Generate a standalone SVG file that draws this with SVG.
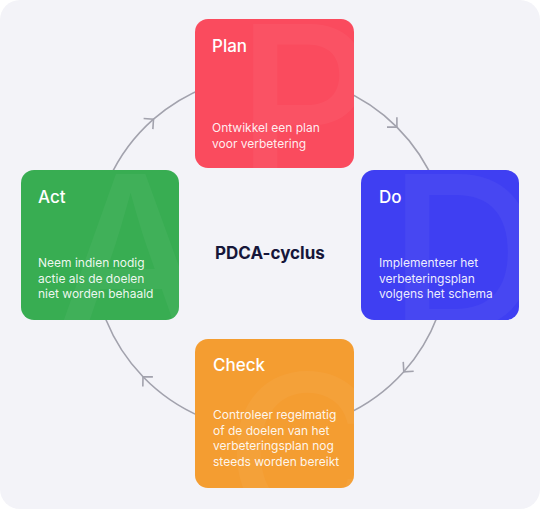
<svg xmlns="http://www.w3.org/2000/svg" width="540" height="509" viewBox="0 0 540 509">
<defs>
<style>
.title{font-family:Inter,"Noto Sans",sans-serif;font-size:17px;font-weight:500;fill:#ffffff}
.desc{font-family:Inter,"Noto Sans",sans-serif;font-size:12px;font-weight:400;fill:#ffffff;fill-opacity:0.92}
.wm{font-family:Inter,"Noto Sans",sans-serif;font-weight:500;fill:#ffffff;fill-opacity:0.045}
.center{font-family:Inter,"Noto Sans",sans-serif;font-size:17px;font-weight:700;fill:#16163a}
.arc{fill:none;stroke:#a2a2ad;stroke-width:1.6}
</style>
<marker id="chev" markerUnits="userSpaceOnUse" markerWidth="20" markerHeight="20" refX="0" refY="0" orient="auto" overflow="visible" viewBox="-10 -10 20 20">
<path d="M-7,-7 L0,0 L-7,7" fill="none" stroke="#a2a2ad" stroke-width="1.6"/>
</marker>
<clipPath id="cPlan"><rect x="195" y="19" width="159" height="149" rx="13"/></clipPath>
<clipPath id="cDo"><rect x="361" y="170" width="158" height="150" rx="13"/></clipPath>
<clipPath id="cAct"><rect x="21" y="170" width="158" height="150" rx="13"/></clipPath>
<clipPath id="cCheck"><rect x="195" y="339" width="159" height="149" rx="13"/></clipPath>
</defs>
<rect x="0" y="0" width="540" height="509" fill="#ffffff"/>
<rect x="0" y="0" width="540" height="509" rx="20" fill="#f3f3f8"/>
<g id="connectors">
<path class="arc" marker-mid="url(#chev)" d="M93,253 A178,178 0 0 1 153.5,119.2 A178,178 0 0 1 271,75"/>
<path class="arc" marker-mid="url(#chev)" d="M271,75 A178,178 0 0 1 396.9,127.1 A178,178 0 0 1 449,253"/>
<path class="arc" marker-mid="url(#chev)" d="M449,253 A178,178 0 0 1 403.8,371.8 A178,178 0 0 1 271,431"/>
<path class="arc" marker-mid="url(#chev)" d="M271,431 A178,178 0 0 1 143,376.7 A178,178 0 0 1 93,253"/>
</g>
<g id="plan">
<rect x="195" y="19" width="159" height="149" rx="13" fill="#fa4b5e"/>
<g clip-path="url(#cPlan)"><text class="wm" x="236" y="180" font-size="215">P</text></g>
<text class="title" x="212" y="52">Plan</text>
<text class="desc" x="212" y="132">Ontwikkel een plan</text>
<text class="desc" x="212" y="147.5">voor verbetering</text>
</g>
<g id="do">
<rect x="361" y="170" width="158" height="150" rx="13" fill="#3f3ff2"/>
<g clip-path="url(#cDo)"><text class="wm" x="388" y="330" font-size="215">D</text></g>
<text class="title" x="379" y="203">Do</text>
<text class="desc" x="379" y="267">Implementeer het</text>
<text class="desc" x="379" y="282.5">verbeteringsplan</text>
<text class="desc" x="379" y="298">volgens het schema</text>
</g>
<g id="act">
<rect x="21" y="170" width="158" height="150" rx="13" fill="#38ad52"/>
<g clip-path="url(#cAct)"><text class="wm" x="55" y="330" font-size="215">A</text></g>
<text class="title" x="38" y="203">Act</text>
<text class="desc" x="38" y="267">Neem indien nodig</text>
<text class="desc" x="38" y="282.5">actie als de doelen</text>
<text class="desc" x="38" y="298">niet worden behaald</text>
</g>
<g id="check">
<rect x="195" y="339" width="159" height="149" rx="13" fill="#f49d31"/>
<g clip-path="url(#cCheck)"><text class="wm" x="225" y="530" font-size="215">C</text></g>
<text class="title" x="213" y="371">Check</text>
<text class="desc" x="213" y="419">Controleer regelmatig</text>
<text class="desc" x="213" y="434.5">of de doelen van het</text>
<text class="desc" x="213" y="450">verbeteringsplan nog</text>
<text class="desc" x="213" y="465.5">steeds worden bereikt</text>
</g>
<g id="label">
<text class="center" x="215" y="259">PDCA-cyclus</text>
</g>
</svg>
